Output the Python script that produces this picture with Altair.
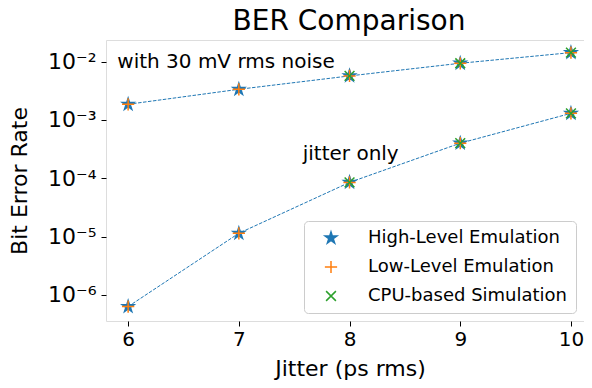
import altair as alt
import pandas as pd

jitter = [6, 7, 8, 9, 10]
noise_ber = [1.86e-3, 3.36e-3, 5.7e-3, 9.4e-3, 1.43e-2]
jitter_ber = [6.3e-7, 1.14e-5, 8.5e-5, 4.0e-4, 1.3e-3]
series = ["High-Level Emulation", "Low-Level Emulation", "CPU-based Simulation"]
cpu_jitter = [8, 9, 10]
colors = ["#1f77b4", "#ff7f0e", "#2ca02c"]

STAR = ("M0,-1L0.225,-0.309L0.951,-0.309L0.363,0.118L0.588,0.809L0,0.382"
        "L-0.588,0.809L-0.363,0.118L-0.951,-0.309L-0.225,-0.309Z")
PLUS = "M-1,0L1,0M0,-1L0,1"
XMARK = "M-0.8,-0.8L0.8,0.8M-0.8,0.8L0.8,-0.8"

rows = []
for s in series:
    for curve, vals in (("noise", noise_ber), ("jitter", jitter_ber)):
        for j, v in zip(jitter, vals):
            if s == "CPU-based Simulation" and j not in cpu_jitter:
                continue
            rows.append({"jitter": j, "ber": v, "series": s, "curve": curve})
df = pd.DataFrame(rows)

ann = pd.DataFrame({
    "jitter": [5.902, 7.577],
    "ber": [7.7e-3, 2.06e-4],
    "text": ["with 30 mV rms noise", "jitter only"],
})

FONT = "DejaVu Sans"
W, H = 478, 281
xscale = alt.Scale(domain=[5.8, 5.8 + W / 110.7], nice=False, zero=False)
yscale = alt.Scale(type="log", domain=[3.565e-7, 2.355e-2], nice=False)

xenc = alt.X("jitter:Q", scale=xscale, title="Jitter (ps rms)",
             axis=alt.Axis(values=jitter, format="d", grid=False, tickSize=5,
                           labelFontSize=20, titleFontSize=22, labelPadding=3,
                           titleX=244, titleY=54, titleBaseline="alphabetic",
                           domain=False, tickColor="black",
                           labelColor="black", titleColor="black",
                           labelFont=FONT, titleFont=FONT, titleFontWeight="normal"))
yenc = alt.Y("ber:Q", scale=yscale, title="Bit Error Rate",
             axis=alt.Axis(values=[1e-6, 1e-5, 1e-4, 1e-3, 1e-2], grid=False,
                           tickSize=5, labelFontSize=22, titleFontSize=22,
                           labelPadding=5, domain=False,
                           titleX=-80, titleY=H / 2, titleBaseline="alphabetic",
                           titleAngle=270, titleAlign="center",
                           tickColor="black", labelColor="black",
                           titleColor="black", labelFont=FONT, titleFont=FONT,
                           titleFontWeight="normal",
                           labelExpr="datum.value >= 0.005 ? '10⁻²' : datum.value >= 0.0005 ? '10⁻³' : datum.value >= 0.00005 ? '10⁻⁴' : datum.value >= 0.000005 ? '10⁻⁵' : '10⁻⁶'"))

lines = alt.Chart(df).transform_filter(
    alt.datum.series == "High-Level Emulation"
).mark_line(color="#1f77b4", strokeWidth=1, strokeDash=[3.5, 1.5]).encode(
    x=xenc, y=yenc, detail="curve:N"
)

legend = alt.Legend(
    title=None, orient="none", legendX=198, legendY=181,
    labelFontSize=18, labelFont=FONT, labelColor="black", labelLimit=400,
    symbolSize=150, symbolStrokeWidth=1.5, rowPadding=10, padding=8,
    symbolOffset=10, labelOffset=28, strokeColor="#cccccc",
    cornerRadius=4, fillColor="rgba(255,255,255,0.8)",
)

points = alt.Chart(df).mark_point(size=150, strokeWidth=1.5, opacity=1,
                                  filled=False).encode(
    x=xenc, y=yenc,
    shape=alt.Shape("series:N", sort=series,
                    scale=alt.Scale(domain=series, range=[STAR, PLUS, XMARK]),
                    legend=legend),
    stroke=alt.Stroke("series:N", sort=series,
                      scale=alt.Scale(domain=series, range=colors), legend=legend),
    fill=alt.Fill("series:N", sort=series,
                  scale=alt.Scale(domain=series,
                                  range=["#1f77b4", "transparent", "transparent"]),
                  legend=legend),
    order=alt.Order("order:Q"),
).transform_calculate(
    order="indexof(['High-Level Emulation','Low-Level Emulation','CPU-based Simulation'], datum.series)"
)

texts = alt.Chart(ann).mark_text(align="left", baseline="alphabetic",
                                 fontSize=20, font=FONT, color="black").encode(
    x=alt.X("jitter:Q", scale=xscale), y=alt.Y("ber:Q", scale=yscale), text="text:N"
)

chart = alt.layer(lines, points, texts).properties(
    width=W, height=H,
    title=alt.TitleParams("BER Comparison", fontSize=28, font=FONT,
                          fontWeight="normal", color="black", anchor="middle",
                          offset=4.5, dx=4),
    autosize=alt.AutoSizeParams(type="none"),
    padding={"left": 98, "top": 32, "right": 0, "bottom": 62},
).configure_view(stroke="black", strokeWidth=1).configure(background="white")

chart.save("out.html", embed_options={"renderer": "svg", "actions": False})
